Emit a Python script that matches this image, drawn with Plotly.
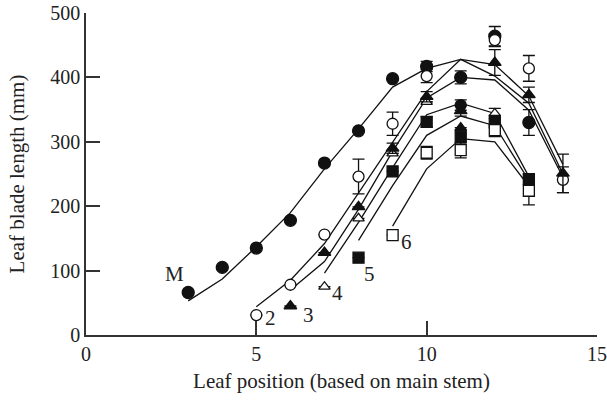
import plotly.graph_objects as go

# ---------------- data ----------------
# observed leaf blade lengths (mm) by leaf position, per tiller
M_x = [3, 4, 5, 6, 7, 8, 9, 10, 11, 12, 13]
M_y = [66, 105, 135, 178, 267, 317, 398, 417, 400, 464, 330]
M_e = [0, 0, 0, 0, 0, 0, 0, 8, 10, 15, 20]

T2_x = [5, 6, 7, 8, 9, 10, 11, 12, 13, 14]
T2_y = [31, 78, 156, 246, 328, 402, 357, 458, 414, 241]
T2_e = [0, 0, 0, 27, 18, 10, 8, 10, 20, 20]

T3_x = [6, 7, 8, 9, 10, 11, 12, 13, 14]
T3_y = [45, 128, 199, 290, 370, 348, 423, 373, 251]
T3_e = [0, 0, 0, 8, 8, 8, 20, 12, 30]

T4_x = [7, 8, 9, 10, 11, 12]
T4_y = [75, 181, 282, 362, 322, 344]
T4_e = [0, 0, 0, 0, 0, 8]

T5_x = [8, 9, 10, 11, 12, 13]
T5_y = [120, 254, 331, 308, 331, 242]
T5_e = [0, 0, 8, 10, 10, 8]

T6_x = [9, 10, 11, 12, 13]
T6_y = [155, 283, 287, 318, 224]
T6_e = [0, 10, 12, 10, 22]

# fitted (model) curves
LM_x = [3, 4, 5, 6, 7, 8, 9, 10, 11, 12, 13, 14]
LM_y = [53, 87, 137, 190, 258, 320, 385, 414, 428, 420, 371, 265]
L2_x = [5, 6, 7, 8, 9, 10, 11, 12, 13, 14]
L2_y = [44, 85, 142, 221, 300, 378, 428, 402, 360, 250]
L3_x = [6, 7, 8, 9, 10, 11, 12, 13, 14]
L3_y = [70, 114, 195, 285, 368, 400, 396, 349, 245]
L4_x = [7, 8, 9, 10, 11, 12, 13]
L4_y = [96, 175, 260, 342, 360, 344, 246]
L5_x = [8, 9, 10, 11, 12, 13]
L5_y = [147, 232, 310, 340, 325, 240]
L6_x = [9, 10, 11, 12, 13]
L6_y = [169, 258, 305, 300, 231]

# tiller labels
lab_text = ["M", "2", "3", "4", "5", "6"]
lab_x = [2.6, 5.42, 6.52, 7.37, 8.33, 9.42]
lab_y = [95, 27, 31, 65, 94, 145]

x_ticks = [0, 5, 10, 15]
y_ticks = [0, 100, 200, 300, 400, 500]

# ---------------- figure ----------------
FONT = "Liberation Serif"
fig = go.Figure()

for lx, ly in [(LM_x, LM_y), (L2_x, L2_y), (L3_x, L3_y),
               (L4_x, L4_y), (L5_x, L5_y), (L6_x, L6_y)]:
    fig.add_trace(go.Scatter(x=lx, y=ly, mode="lines",
                             line=dict(color="#111", width=1.3),
                             hoverinfo="skip", showlegend=False))


def add_obs(xs, ys, es, symbol, filled, size, filled_at=()):
    colors = []
    for xv in xs:
        colors.append("#111" if (filled or xv in filled_at) else "white")
    fig.add_trace(go.Scatter(
        x=xs, y=ys, mode="markers",
        marker=dict(symbol=symbol, size=size, color=colors,
                    line=dict(color="#111", width=1.3)),
        error_y=dict(type="data", array=es, visible=True,
                     color="#111", thickness=1.3, width=6),
        showlegend=False))


add_obs(M_x, M_y, M_e, "circle", True, 12)
add_obs(T2_x, T2_y, T2_e, "circle", False, 11, filled_at=(11,))
add_obs(T4_x, T4_y, T4_e, "triangle-up", False, 10, filled_at=(11,))
add_obs(T3_x, T3_y, T3_e, "triangle-up", True, 11)
add_obs(T5_x, T5_y, T5_e, "square", True, 11)
add_obs(T6_x, T6_y, T6_e, "square", False, 11)

for t, xv, yv in zip(lab_text, lab_x, lab_y):
    fig.add_annotation(x=xv, y=yv, text=t, showarrow=False,
                       font=dict(family=FONT, size=21, color="#222"))

axis_common = dict(showline=True, linecolor="#333", linewidth=1.5,
                   ticks="inside", ticklen=14, tickwidth=1.5, tickcolor="#333",
                   showgrid=False, zeroline=False, mirror=False,
                   tickfont=dict(family=FONT, size=20, color="#222"))

fig.update_xaxes(range=[0, 15], tickvals=x_ticks,
                 title=dict(text="Leaf position (based on main stem)",
                            font=dict(family=FONT, size=21, color="#222"),
                            standoff=10),
                 **axis_common)
fig.update_yaxes(range=[0, 500], tickvals=y_ticks,
                 title=dict(text="Leaf blade length (mm)",
                            font=dict(family=FONT, size=21, color="#222"),
                            standoff=20),
                 **axis_common)

fig.update_layout(width=607, height=404,
                  margin=dict(l=86, r=10, t=13, b=69, autoexpand=False),
                  plot_bgcolor="white", paper_bgcolor="white")

fig.write_html("out.html")
